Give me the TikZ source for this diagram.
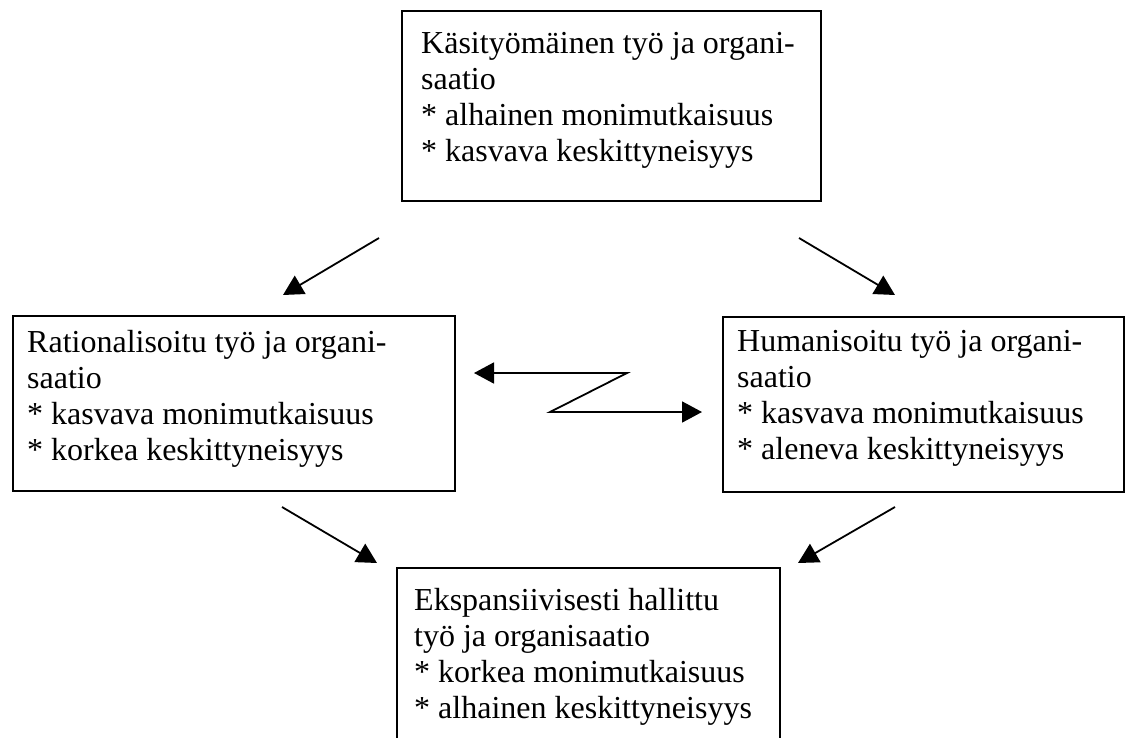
\documentclass[tikz,border=0pt]{standalone}
\usepackage{fontspec}
\setmainfont{Liberation Serif}
\usetikzlibrary{arrows.meta}
\begin{document}
\begin{tikzpicture}[x=1pt,y=-1pt,
  panel/.style={draw, line width=1.8pt, rectangle, anchor=north west, inner sep=0pt},
  label/.style={anchor=north west, align=left, inner sep=0pt, font=\fontsize{32}{36}\selectfont},
  flow/.style={line width=1.8pt, -{Triangle[length=20pt,width=21pt]}},
  twoway/.style={line width=1.8pt, {Triangle[length=20pt,width=21pt]}-{Triangle[length=20pt,width=21pt]}},
]
\useasboundingbox (0,0) rectangle (1130,737);
\fill[white] (0,0) rectangle (1130,737);
\clip (0,0) rectangle (1130,737);

% boxes
\node[panel, minimum width=419pt, minimum height=190pt] (craft) at (401,10) {};
\node[panel, minimum width=442pt, minimum height=175pt] (rational) at (12,315) {};
\node[panel, minimum width=401pt, minimum height=175pt] (human) at (722,316) {};
\node[panel, minimum width=383pt, minimum height=200pt] (expand) at (396,567) {};

% texts (placed by the top of their first line)
\node[label] (craftT) at (421,32) {Käsityömäinen työ ja organi-\\saatio\\* alhainen monimutkaisuus\\* kasvava keskittyneisyys};
\node[label] (rationalT) at (27,330) {Rationalisoitu työ ja organi-\\saatio\\* kasvava monimutkaisuus\\* korkea keskittyneisyys};
\node[label] (humanT) at (737,330) {Humanisoitu työ ja organi-\\saatio\\* kasvava monimutkaisuus\\* aleneva keskittyneisyys};
\node[label] (expandT) at (414,588) {Ekspansiivisesti hallittu\\työ ja organisaatio\\* korkea monimutkaisuus\\* alhainen keskittyneisyys};

% arrow end points
\coordinate (a1s) at (379,238); \coordinate (a1e) at (283,295);
\coordinate (a2s) at (799,238); \coordinate (a2e) at (895,295);
\coordinate (a3s) at (282,507); \coordinate (a3e) at (377,563);
\coordinate (a4s) at (895,507); \coordinate (a4e) at (798,563);
\coordinate (zl) at (474,373); \coordinate (zu) at (627,373);
\coordinate (zd) at (550,412); \coordinate (zr) at (702,412);

\draw[flow] (a1s) -- (a1e);
\draw[flow] (a2s) -- (a2e);
\draw[flow] (a3s) -- (a3e);
\draw[flow] (a4s) -- (a4e);
\draw[twoway, line join=miter] (zl) -- (zu) -- (zd) -- (zr);
\end{tikzpicture}
\end{document}
